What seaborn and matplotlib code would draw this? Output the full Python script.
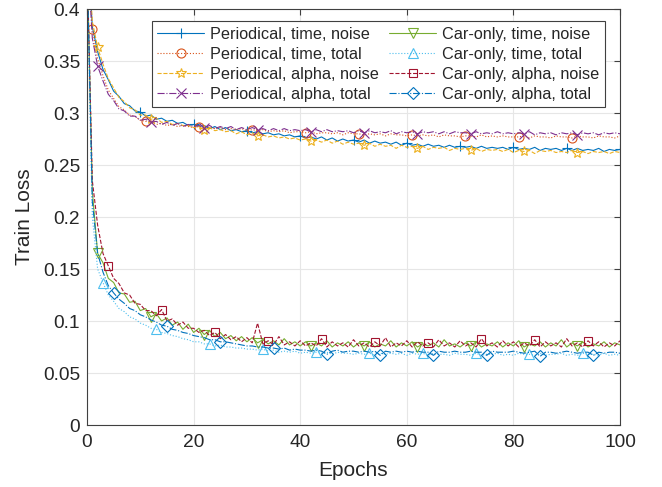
import numpy as np
import pandas as pd
import matplotlib
matplotlib.use('Agg')
import matplotlib.pyplot as plt
import seaborn as sns

# epochs 0..100, values
epochs = list(range(0, 101))

p_time_noise = [0.470,
    0.383, 0.359, 0.342, 0.332, 0.321, 0.316, 0.309, 0.307, 0.302, 0.301,
    0.297, 0.298, 0.294, 0.295, 0.292, 0.293, 0.290, 0.291, 0.288, 0.289,
    0.287, 0.288, 0.285, 0.287, 0.284, 0.286, 0.283, 0.284, 0.282, 0.283,
    0.281, 0.282, 0.280, 0.281, 0.279, 0.280, 0.278, 0.279, 0.277, 0.278,
    0.276, 0.277, 0.275, 0.277, 0.274, 0.276, 0.273, 0.275, 0.273, 0.274,
    0.272, 0.274, 0.271, 0.273, 0.271, 0.272, 0.270, 0.272, 0.269, 0.271,
    0.269, 0.270, 0.268, 0.270, 0.268, 0.269, 0.267, 0.269, 0.267, 0.268,
    0.267, 0.268, 0.266, 0.268, 0.266, 0.267, 0.266, 0.267, 0.265, 0.267,
    0.265, 0.266, 0.265, 0.267, 0.264, 0.266, 0.265, 0.266, 0.264, 0.266,
    0.264, 0.266, 0.264, 0.265, 0.264, 0.266, 0.263, 0.265, 0.264, 0.265]

p_time_total = [0.455,
    0.381, 0.352, 0.336, 0.322, 0.314, 0.306, 0.303, 0.298, 0.297, 0.293,
    0.292, 0.291, 0.289, 0.290, 0.288, 0.289, 0.287, 0.288, 0.287, 0.286,
    0.287, 0.285, 0.286, 0.285, 0.286, 0.284, 0.285, 0.284, 0.285, 0.283,
    0.284, 0.283, 0.284, 0.282, 0.283, 0.282, 0.283, 0.281, 0.282, 0.282,
    0.281, 0.282, 0.280, 0.281, 0.281, 0.280, 0.281, 0.279, 0.281, 0.280,
    0.280, 0.279, 0.280, 0.279, 0.280, 0.278, 0.280, 0.279, 0.279, 0.278,
    0.279, 0.278, 0.279, 0.278, 0.279, 0.277, 0.279, 0.278, 0.278, 0.277,
    0.278, 0.278, 0.277, 0.279, 0.277, 0.278, 0.277, 0.278, 0.277, 0.277,
    0.277, 0.278, 0.276, 0.278, 0.277, 0.277, 0.276, 0.278, 0.277, 0.277,
    0.276, 0.278, 0.277, 0.277, 0.276, 0.278, 0.277, 0.277, 0.276, 0.278]

p_alpha_noise = [0.475,
    0.388, 0.363, 0.347, 0.333, 0.324, 0.315, 0.311, 0.305, 0.303, 0.298,
    0.298, 0.294, 0.295, 0.291, 0.292, 0.289, 0.290, 0.288, 0.288, 0.286,
    0.287, 0.284, 0.286, 0.283, 0.284, 0.282, 0.283, 0.280, 0.282, 0.279,
    0.281, 0.278, 0.279, 0.277, 0.278, 0.276, 0.277, 0.275, 0.276, 0.274,
    0.275, 0.273, 0.274, 0.272, 0.274, 0.271, 0.273, 0.270, 0.272, 0.270,
    0.271, 0.269, 0.271, 0.268, 0.270, 0.268, 0.269, 0.266, 0.269, 0.267,
    0.268, 0.266, 0.268, 0.265, 0.267, 0.266, 0.267, 0.264, 0.266, 0.265,
    0.266, 0.264, 0.266, 0.263, 0.265, 0.264, 0.265, 0.263, 0.265, 0.262,
    0.264, 0.263, 0.264, 0.261, 0.264, 0.263, 0.264, 0.262, 0.263, 0.262,
    0.264, 0.262, 0.263, 0.261, 0.263, 0.262, 0.263, 0.261, 0.263, 0.262]

p_alpha_total = [0.460,
    0.372, 0.345, 0.331, 0.318, 0.312, 0.304, 0.302, 0.297, 0.297, 0.293,
    0.294, 0.291, 0.292, 0.289, 0.291, 0.288, 0.290, 0.287, 0.289, 0.287,
    0.288, 0.286, 0.288, 0.285, 0.287, 0.285, 0.287, 0.284, 0.286, 0.284,
    0.286, 0.284, 0.285, 0.283, 0.285, 0.283, 0.285, 0.283, 0.284, 0.283,
    0.284, 0.282, 0.284, 0.282, 0.284, 0.282, 0.283, 0.282, 0.283, 0.281,
    0.283, 0.281, 0.283, 0.281, 0.282, 0.281, 0.283, 0.280, 0.282, 0.281,
    0.282, 0.280, 0.282, 0.281, 0.282, 0.280, 0.282, 0.280, 0.282, 0.281,
    0.281, 0.280, 0.282, 0.280, 0.281, 0.280, 0.282, 0.280, 0.281, 0.280,
    0.281, 0.280, 0.282, 0.279, 0.281, 0.280, 0.281, 0.279, 0.281, 0.280,
    0.281, 0.279, 0.281, 0.280, 0.281, 0.279, 0.281, 0.280, 0.281, 0.280]

c_time_noise = [0.450,
    0.225, 0.165, 0.156, 0.141, 0.137, 0.127, 0.126, 0.118, 0.119, 0.110,
    0.112, 0.104, 0.107, 0.100, 0.103, 0.096, 0.099, 0.092, 0.097, 0.089,
    0.093, 0.087, 0.091, 0.085, 0.089, 0.083, 0.086, 0.081, 0.085, 0.080,
    0.084, 0.079, 0.082, 0.078, 0.081, 0.077, 0.083, 0.077, 0.080, 0.076,
    0.080, 0.076, 0.079, 0.076, 0.081, 0.075, 0.079, 0.076, 0.080, 0.075,
    0.079, 0.076, 0.080, 0.075, 0.078, 0.076, 0.081, 0.075, 0.079, 0.076,
    0.080, 0.075, 0.078, 0.076, 0.079, 0.075, 0.082, 0.076, 0.078, 0.075,
    0.079, 0.076, 0.080, 0.075, 0.078, 0.076, 0.080, 0.075, 0.079, 0.076,
    0.081, 0.075, 0.078, 0.076, 0.080, 0.075, 0.079, 0.076, 0.082, 0.075,
    0.079, 0.076, 0.080, 0.075, 0.078, 0.076, 0.080, 0.075, 0.079, 0.077]

c_time_total = [0.440,
    0.200, 0.150, 0.137, 0.125, 0.119, 0.112, 0.109, 0.104, 0.102, 0.098,
    0.096, 0.093, 0.092, 0.089, 0.088, 0.086, 0.085, 0.083, 0.082, 0.080,
    0.080, 0.078, 0.078, 0.076, 0.077, 0.075, 0.075, 0.074, 0.074, 0.073,
    0.073, 0.072, 0.073, 0.071, 0.072, 0.070, 0.071, 0.070, 0.071, 0.069,
    0.070, 0.069, 0.070, 0.069, 0.070, 0.068, 0.070, 0.069, 0.069, 0.068,
    0.069, 0.068, 0.069, 0.067, 0.069, 0.068, 0.069, 0.068, 0.069, 0.067,
    0.069, 0.068, 0.069, 0.067, 0.069, 0.068, 0.068, 0.067, 0.069, 0.068,
    0.068, 0.067, 0.069, 0.067, 0.068, 0.068, 0.069, 0.067, 0.068, 0.067,
    0.069, 0.068, 0.068, 0.067, 0.069, 0.067, 0.068, 0.068, 0.069, 0.067,
    0.068, 0.067, 0.069, 0.068, 0.068, 0.067, 0.069, 0.067, 0.068, 0.067]

c_alpha_noise = [0.450,
    0.235, 0.192, 0.165, 0.153, 0.141, 0.136, 0.127, 0.125, 0.117, 0.116,
    0.110, 0.110, 0.105, 0.111, 0.100, 0.102, 0.096, 0.099, 0.093, 0.093,
    0.089, 0.091, 0.086, 0.089, 0.083, 0.087, 0.082, 0.085, 0.080, 0.084,
    0.079, 0.098, 0.078, 0.081, 0.077, 0.085, 0.077, 0.080, 0.076, 0.081,
    0.076, 0.079, 0.076, 0.083, 0.075, 0.080, 0.076, 0.079, 0.075, 0.082,
    0.076, 0.079, 0.075, 0.080, 0.076, 0.084, 0.075, 0.079, 0.076, 0.081,
    0.075, 0.080, 0.076, 0.079, 0.075, 0.082, 0.076, 0.079, 0.075, 0.081,
    0.076, 0.079, 0.075, 0.083, 0.076, 0.079, 0.075, 0.081, 0.076, 0.080,
    0.075, 0.079, 0.076, 0.082, 0.075, 0.080, 0.076, 0.079, 0.075, 0.083,
    0.076, 0.079, 0.075, 0.081, 0.076, 0.080, 0.075, 0.079, 0.076, 0.081]

c_alpha_total = [0.450,
    0.215, 0.165, 0.147, 0.134, 0.127, 0.121, 0.117, 0.112, 0.110, 0.106,
    0.104, 0.101, 0.099, 0.096, 0.095, 0.092, 0.091, 0.089, 0.088, 0.086,
    0.085, 0.084, 0.082, 0.082, 0.080, 0.080, 0.079, 0.078, 0.077, 0.076,
    0.076, 0.075, 0.075, 0.074, 0.074, 0.073, 0.074, 0.072, 0.073, 0.072,
    0.072, 0.071, 0.072, 0.071, 0.068, 0.071, 0.072, 0.070, 0.071, 0.071,
    0.070, 0.071, 0.070, 0.071, 0.067, 0.071, 0.070, 0.071, 0.070, 0.071,
    0.070, 0.071, 0.070, 0.070, 0.067, 0.071, 0.070, 0.070, 0.071, 0.070,
    0.070, 0.071, 0.070, 0.070, 0.067, 0.071, 0.070, 0.070, 0.070, 0.071,
    0.070, 0.069, 0.070, 0.071, 0.066, 0.070, 0.070, 0.069, 0.070, 0.071,
    0.070, 0.069, 0.070, 0.070, 0.067, 0.070, 0.069, 0.070, 0.070, 0.069]

labels = ['Periodical, time, noise', 'Periodical, time, total',
          'Periodical, alpha, noise', 'Periodical, alpha, total',
          'Car-only, time, noise', 'Car-only, time, total',
          'Car-only, alpha, noise', 'Car-only, alpha, total']
series = [p_time_noise, p_time_total, p_alpha_noise, p_alpha_total,
          c_time_noise, c_time_total, c_alpha_noise, c_alpha_total]

# MATLAB default colour order
colors = ['#0072BD', '#D95319', '#EDB120', '#7E2F8E',
          '#77AC30', '#4DBEEE', '#A2142F', '#0072BD']
styles = ['-', ':', '--', '-.', '-', ':', '--', '-.']
markers = ['+', 'o', '*', 'x', 'v', '^', 's', 'D']
marker_start = [0, 1, 2, 2, 2, 3, 4, 5]
marker_size = [7, 6.5, 7.5, 6.5, 6.5, 6.5, 6, 6]

sns.set_style('white')
plt.rcParams['font.family'] = ['Liberation Sans', 'DejaVu Sans']

fig = plt.figure(figsize=(6.62, 4.87), dpi=100)
ax = fig.add_axes([0.1314, 0.1273, 0.8052, 0.8542])

for lab, vals, col, ls, mk, st, ms in zip(labels, series, colors, styles,
                                          markers, marker_start, marker_size):
    df = pd.DataFrame({'Epoch': epochs, 'Loss': vals})
    sns.lineplot(data=df, x='Epoch', y='Loss', ax=ax, color=col, linestyle=ls,
                 linewidth=0.8, marker=mk, markersize=ms, markevery=(st, 10),
                 markerfacecolor='none', markeredgecolor=col, markeredgewidth=0.8,
                 label=lab)

ax.set_xlim(0, 100)
ax.set_ylim(0, 0.4)
ax.set_xticks(np.arange(0, 101, 20))
ax.set_yticks(np.arange(0, 0.41, 0.05))
ax.set_yticklabels(['0', '0.05', '0.1', '0.15', '0.2', '0.25', '0.3', '0.35', '0.4'])
ax.grid(True, color='#e6e6e6', linewidth=0.8)
ax.set_axisbelow(True)
ax.tick_params(direction='in', length=4, width=0.8, color='#404040',
               labelsize=13.8, labelcolor='#262626', top=True, right=True)
ax.tick_params(axis='x', pad=6.5)
ax.tick_params(axis='y', pad=5)
for sp in ax.spines.values():
    sp.set_color('#404040')
    sp.set_linewidth(0.8)

ax.set_xlabel('Epochs', fontsize=15, color='#262626')
ax.set_ylabel('Train Loss', fontsize=15, color='#262626')
ax.xaxis.set_label_coords(0.5, -0.087)
ax.yaxis.set_label_coords(-0.1, 0.5)

leg = ax.legend(ncol=2, loc='upper right', bbox_to_anchor=(0.972, 0.97),
                borderaxespad=0, fontsize=11.7, frameon=True, fancybox=False,
                framealpha=1, edgecolor='#404040', handlelength=2.9,
                handletextpad=0.37, columnspacing=0.6, labelspacing=0.3,
                borderpad=0.35)
leg.get_frame().set_linewidth(0.8)

fig.savefig('out.png', dpi=100)
